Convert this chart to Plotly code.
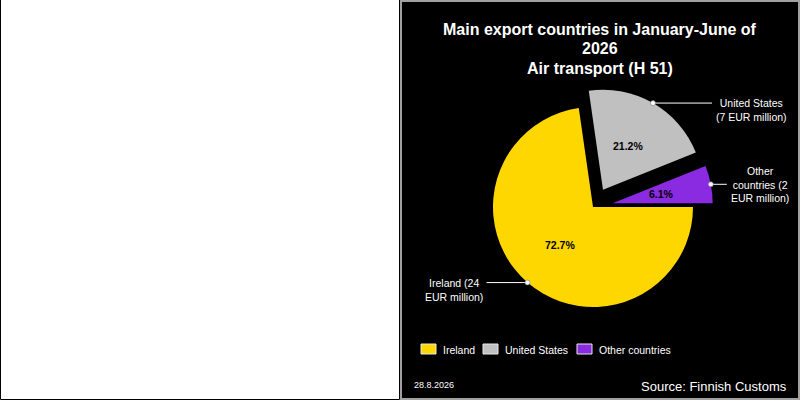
import math
import plotly.graph_objects as go

# data
countries = ["Ireland", "United States", "Other countries"]
values_eur_m = [24, 7, 2]
callout_labels = ["Ireland (24<br>EUR million)",
                  "United States<br>(7 EUR million)",
                  "Other<br>countries (2<br>EUR million)"]
slice_colors = ["#ffd700", "#c0c0c0", "#8a2be2"]
pulls = [0, 0.2, 0.2]

title_lines = ["Main export countries in January-June of", "2026", "Air transport (H 51)"]
date_text = "28.8.2026"
source_text = "Source: Finnish Customs"

W, H = 800, 400
FONT = "Arial, Liberation Sans, sans-serif"

# pie geometry in pixels (centre measured from the top)
CX, CY, R = 593, 207, 100
box = R * (1 + max(pulls))
dom_x = [(CX - box) / W, (CX + box) / W]
dom_y = [(H - CY - box) / H, (H - CY + box) / H]


def px(x, y):
    return x / W, (H - y) / H


fig = go.Figure()
fig.add_trace(go.Pie(
    labels=countries,
    values=values_eur_m,
    sort=False,
    direction="clockwise",
    rotation=90,
    pull=pulls,
    marker=dict(colors=slice_colors, line=dict(width=0)),
    textinfo="none",
    hoverinfo="label+value+percent",
    showlegend=False,
    domain=dict(x=dom_x, y=dom_y),
))

shapes = [
    # right black panel
    dict(type="rect", xref="paper", yref="paper", x0=401 / W, x1=799 / W,
         y0=1 / H, y1=399 / H, line=dict(color="#a0a0a0", width=2), fillcolor="black", layer="below"),
]
# left blank panel: black edge on left, bottom and right
for (xa, ya, xb, yb) in [(0.5, 0, 0.5, 399.5), (0.5, 399.5, 399.5, 399.5), (399.5, 0, 399.5, 399.5)]:
    x0, y0 = px(xa, ya)
    x1, y1 = px(xb, yb)
    shapes.append(dict(type="line", xref="paper", yref="paper", x0=x0, y0=y0, x1=x1, y1=y1,
                       line=dict(color="black", width=1)))

annotations = []
total = sum(values_eur_m)
leader_len = [-41, 59, 16]
leader_row = [0, 0, 1]
LH = 14
cum = 0
for i, v in enumerate(values_eur_m):
    before, after = cum / total, (cum + v) / total
    cum += v
    mid = math.radians(-(before + after) / 2 * 360)
    pcx = CX + pulls[i] * R * math.cos(mid)
    pcy = CY - pulls[i] * R * math.sin(mid)
    # percentage label inside the slice
    lx, ly = pcx + 0.5 * R * math.cos(mid), pcy - 0.5 * R * math.sin(mid)
    ax_, ay_ = px(lx, ly)
    annotations.append(dict(x=ax_, y=ay_, xref="paper", yref="paper", showarrow=False,
                            xanchor="center", yanchor="middle",
                            text="<b>%.1f%%</b>" % (100 * v / total),
                            font=dict(family=FONT, size=10.5, color="black")))
    # leader line with dot
    dx, dy = pcx + R * math.cos(mid), pcy - R * math.sin(mid)
    ex = dx + leader_len[i]
    x0, y0 = px(dx, dy)
    x1, _ = px(ex, dy)
    shapes.append(dict(type="line", xref="paper", yref="paper", x0=x0, x1=x1, y0=y0, y1=y0,
                       line=dict(color="white", width=1)))
    shapes.append(dict(type="circle", xref="paper", yref="paper", xsizemode="pixel", ysizemode="pixel",
                       xanchor=x0, yanchor=y0, x0=-2.5, x1=2.5, y0=-2.5, y1=2.5,
                       fillcolor="white", line=dict(color="#606060", width=0.5)))
    nrows = callout_labels[i].count("<br>") + 1
    ty = dy + (nrows - 1) / 2 * LH - leader_row[i] * LH
    tx = ex - 2 if leader_len[i] < 0 else ex + 2
    tx_p, ty_p = px(tx, ty)
    annotations.append(dict(x=tx_p, y=ty_p, xref="paper", yref="paper", showarrow=False,
                            xanchor="right" if leader_len[i] < 0 else "left", yanchor="middle",
                            align="center", text=callout_labels[i],
                            font=dict(family=FONT, size=10.5, color="white")))

# legend row under the pie
legend_left = [421, 483, 577]
LEG_Y = 349
for name, col, lx in zip(countries, slice_colors, legend_left):
    shapes.append(dict(type="rect", xref="paper", yref="paper",
                       x0=lx / W, x1=(lx + 15) / W, y0=(H - LEG_Y - 5) / H, y1=(H - LEG_Y + 5) / H,
                       fillcolor=col, line=dict(color="#e8e8e8", width=1)))
    tx_p, ty_p = px(lx + 20, LEG_Y + 1)
    annotations.append(dict(x=tx_p, y=ty_p, xref="paper", yref="paper", showarrow=False,
                            xanchor="left", yanchor="middle", text=name,
                            font=dict(family=FONT, size=10.5, color="white")))

# title, one annotation per line
for line, ly in zip(title_lines, [30, 48, 68]):
    tx_p, ty_p = px(600, ly)
    annotations.append(dict(x=tx_p, y=ty_p, xref="paper", yref="paper", showarrow=False,
                            xanchor="center", yanchor="middle", text="<b>%s</b>" % line,
                            font=dict(family=FONT, size=16, color="white")))

annotations.append(dict(x=412 / W, y=(H - 385) / H, xref="paper", yref="paper", showarrow=False,
                        xanchor="left", yanchor="middle", text=date_text,
                        font=dict(family=FONT, size=9, color="white")))
annotations.append(dict(x=789 / W, y=(H - 386) / H, xref="paper", yref="paper", showarrow=False,
                        xanchor="right", yanchor="middle", text=source_text,
                        font=dict(family=FONT, size=13, color="white")))

fig.update_layout(
    width=W, height=H,
    margin=dict(l=0, r=0, t=0, b=0),
    paper_bgcolor="white",
    plot_bgcolor="white",
    showlegend=False,
    shapes=shapes,
    annotations=annotations,
)

fig.write_html("out.html", config={"displayModeBar": False},
               post_script="document.body.style.margin = '0';")
